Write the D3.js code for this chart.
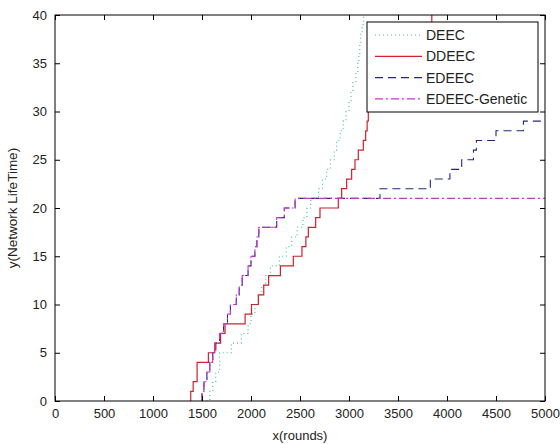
<!DOCTYPE html>
<html>
<head>
<meta charset="utf-8">
<script src="https://cdn.jsdelivr.net/npm/d3@7"></script>
<style>
  body { margin: 0; background: #fff; }
  svg { display: block; font-family: "Liberation Sans", Arial, sans-serif; }
</style>
</head>
<body>
<div id="chart"></div>
<script>
// series are step functions: from rounds[i] onward the value is values[i]
var deecRounds = [1550, 1580, 1610, 1640, 1680, 1800, 1900, 1970, 2000, 2040, 2075, 2110, 2150, 2200, 2290, 2360, 2415, 2470, 2530, 2570, 2610, 2690, 2730, 2772, 2810, 2850, 2874, 2910, 2940, 2970, 3000, 3020, 3040, 3070, 3090, 3100, 3110, 3120, 3135, 3150];
var deecValues = [0, 1, 2, 3, 5, 6, 7, 8, 9, 10, 11, 12, 13, 14, 15, 16, 17, 18, 19, 20, 21, 22, 23, 24, 25, 26, 27, 28, 29, 30, 31, 32, 33, 34, 35, 36, 37, 38, 39, 41];

var ddeecRounds = [1380, 1385, 1410, 1450, 1565, 1630, 1690, 1735, 1940, 2005, 2075, 2130, 2180, 2300, 2432, 2520, 2560, 2585, 2660, 2704, 2891, 2925, 2976, 3027, 3061, 3095, 3146, 3170, 3185, 3197, 3260, 3330, 3400, 3460, 3530, 3590, 3650, 3720, 3780, 3845];
var ddeecValues = [0, 1, 2, 4, 5, 6, 7, 8, 9, 10, 11, 12, 13, 14, 15, 16, 17, 18, 19, 20, 21, 22, 23, 24, 25, 26, 27, 28, 29, 30, 31, 32, 33, 34, 35, 36, 37, 38, 39, 41];

var edeecRounds = [1497, 1500, 1520, 1550, 1580, 1610, 1640, 1680, 1720, 1760, 1790, 1850, 1880, 1910, 1970, 2000, 2040, 2060, 2080, 2262, 2340, 2450, 3316, 3830, 4030, 4150, 4270, 4300, 4500, 4780, 5000];
var edeecValues = [0, 1, 2, 3, 4, 5, 6, 7, 8, 9, 10, 11, 12, 13, 14, 15, 16, 17, 18, 19, 20, 21, 22, 23, 24, 25, 26, 27, 28, 29, 29];

var geneticRounds = [1497, 1500, 1520, 1550, 1580, 1610, 1640, 1680, 1720, 1760, 1790, 1850, 1880, 1910, 1970, 2000, 2040, 2060, 2080, 2262, 2340, 2450, 5000];
var geneticValues = [0, 1, 2, 3, 4, 5, 6, 7, 8, 9, 10, 11, 12, 13, 14, 15, 16, 17, 18, 19, 20, 21, 21];

var seriesNames = ['DEEC', 'DDEEC', 'EDEEC', 'EDEEC-Genetic'];
var xTicks = [0, 500, 1000, 1500, 2000, 2500, 3000, 3500, 4000, 4500, 5000];
var yTicks = [0, 5, 10, 15, 20, 25, 30, 35, 40];

var width = 560;
var height = 444;
var margin = { top: 15, right: 15, bottom: 43, left: 55 };
var plot = {
  width: width - margin.left - margin.right,
  height: height - margin.top - margin.bottom
};

var styles = [
  { color: '#3cc47e', dash: '1,3', width: 1.1 },
  { color: '#d0202e', dash: null, width: 1.2 },
  { color: '#26267e', dash: '8,5', width: 1.1 },
  { color: '#cc33cc', dash: '8,3,2,3', width: 1.1 }
];

var series = [
  d3.zip(deecRounds, deecValues),
  d3.zip(ddeecRounds, ddeecValues),
  d3.zip(edeecRounds, edeecValues),
  d3.zip(geneticRounds, geneticValues)
];

var svg = d3.select('#chart').append('svg')
  .attr('width', width)
  .attr('height', height);

var x = d3.scaleLinear().domain([0, 5000]).range([0, plot.width]);
var y = d3.scaleLinear().domain([0, 40]).range([plot.height, 0]);

var g = svg.append('g')
  .attr('transform', 'translate(' + margin.left + ',' + margin.top + ')');

svg.append('defs').append('clipPath')
  .attr('id', 'plotClip')
  .append('rect')
  .attr('width', plot.width)
  .attr('height', plot.height);

// data lines
var line = d3.line()
  .x(function (d) { return x(d[0]); })
  .y(function (d) { return y(d[1]); })
  .curve(d3.curveStepAfter);

var lines = g.append('g').attr('clip-path', 'url(#plotClip)');
series.forEach(function (data, i) {
  lines.append('path')
    .datum(data)
    .attr('d', line)
    .attr('fill', 'none')
    .attr('stroke', styles[i].color)
    .attr('stroke-width', styles[i].width)
    .attr('stroke-dasharray', styles[i].dash);
});

// axes: ticks inside on all four sides, like a boxed matlab plot
var tickLen = 5;
var axisStyle = function (sel) {
  sel.select('.domain').remove();
  sel.selectAll('line').attr('stroke', '#000');
  sel.selectAll('text')
    .attr('fill', '#222')
    .style('font-size', '13px');
};

g.append('g')
  .attr('transform', 'translate(0,' + plot.height + ')')
  .call(d3.axisBottom(x).tickValues(xTicks).tickSize(-tickLen).tickPadding(8).tickFormat(d3.format('d')))
  .call(axisStyle);

g.append('g')
  .call(d3.axisTop(x).tickValues(xTicks).tickSize(-tickLen).tickFormat(''))
  .call(axisStyle);

g.append('g')
  .call(d3.axisLeft(y).tickValues(yTicks).tickSize(-tickLen).tickPadding(8))
  .call(axisStyle);

g.append('g')
  .attr('transform', 'translate(' + plot.width + ',0)')
  .call(d3.axisRight(y).tickValues(yTicks).tickSize(-tickLen).tickFormat(''))
  .call(axisStyle);

g.append('rect')
  .attr('width', plot.width)
  .attr('height', plot.height)
  .attr('fill', 'none')
  .attr('stroke', '#000')
  .attr('stroke-width', 1);

// axis labels
svg.append('text')
  .attr('x', margin.left + plot.width / 2)
  .attr('y', 440)
  .attr('text-anchor', 'middle')
  .style('font-size', '13px')
  .attr('fill', '#222')
  .text('x(rounds)');

svg.append('text')
  .attr('transform', 'translate(17,' + (margin.top + plot.height / 2) + ') rotate(-90)')
  .attr('text-anchor', 'middle')
  .style('font-size', '13.5px')
  .attr('fill', '#222')
  .text('y(Network LifeTime)');

// legend
var legend = svg.append('g').attr('transform', 'translate(367,22)');
legend.append('rect')
  .attr('width', 171)
  .attr('height', 90)
  .attr('fill', '#fff')
  .attr('stroke', '#000')
  .attr('stroke-width', 1);

seriesNames.forEach(function (name, i) {
  var rowY = 13 + i * 21.3;
  legend.append('line')
    .attr('x1', 8)
    .attr('x2', 55)
    .attr('y1', rowY)
    .attr('y2', rowY)
    .attr('stroke', styles[i].color)
    .attr('stroke-width', styles[i].width)
    .attr('stroke-dasharray', styles[i].dash);
  legend.append('text')
    .attr('x', 59)
    .attr('y', rowY + 5)
    .style('font-size', '14px')
    .attr('fill', '#222')
    .text(name);
});
</script>
</body>
</html>
